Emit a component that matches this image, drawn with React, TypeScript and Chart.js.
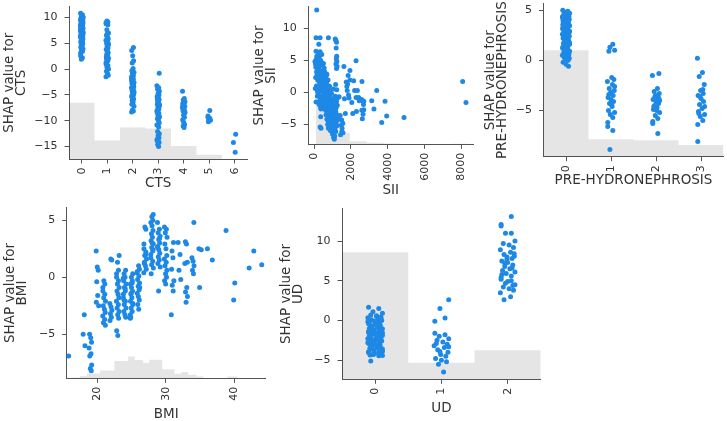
import React, { useEffect, useRef } from "react";
import { Chart, registerables } from "chart.js";

Chart.register(...registerables);

const BLUE = "#1E88E5";
const HIST_COLOR = "rgba(0,0,0,0.1)";
const TEXT_COLOR = "#333333";
const SPINE_COLOR = "#555555";
const FONT_FAMILY = "'DejaVu Sans', Verdana, sans-serif";
const TICK_SIZE = 11;
const TITLE_SIZE = 13.5;
const TITLE_LH = 0.91;

// ---------- CTS ----------
const CTS_CATS = [0, 1, 2, 3, 4, 5, 6];
const CTS_VALUES = [
  [10.8, 10.5, 10.3, 10.1, 9.9, 9.8, 9.6, 9.5, 9.4, 9.2, 9.1, 9.0, 8.8, 8.7, 8.6, 8.4, 8.3, 8.2, 8.0, 7.9, 7.8, 7.6, 7.5, 7.4, 7.2, 7.1, 7.0, 6.8, 6.7, 6.5, 6.4, 6.2, 6.0, 5.9, 5.7, 5.5, 5.3, 5.1, 4.9, 4.7, 4.5, 4.2, 3.9, 3.6, 3.4, 3.1, 2.6, 2.2, 1.9, 10.0, 9.7, 9.3, 8.9, 8.5, 8.1, 7.7, 7.3, 6.9, 6.6, 6.1, 5.6, 5.0, 4.4, 9.0, 8.0, 7.0],
  [9.3, 9.1, 9.0, 8.8, 8.6, 7.6, 7.0, 6.5, 6.2, 5.9, 5.6, 5.3, 5.0, 4.7, 4.4, 4.1, 3.8, 3.5, 3.2, 2.9, 2.7, 2.4, 2.1, 1.9, 1.6, 1.3, 1.0, 0.7, 0.4, 0.0, -0.4, -0.8, -1.2, -1.5, 3.0, 2.0, 4.9, 6.8],
  [4.2, 3.6, 2.6, 1.6, 1.2, 0.1, -0.3, -0.6, -0.9, -1.2, -1.5, -1.8, -2.0, -2.3, -2.6, -2.8, -3.1, -3.4, -3.6, -3.9, -4.2, -4.4, -4.7, -5.0, -5.2, -5.5, -5.8, -6.1, -6.4, -6.8, -7.2, -7.9, -8.1, -8.3, -2.2, -3.0, -3.8, -4.6, -5.4, -1.6],
  [-0.8, -3.2, -3.6, -3.9, -4.3, -4.7, -5.0, -5.3, -5.6, -5.9, -6.2, -6.5, -6.8, -7.1, -7.4, -7.7, -8.0, -8.3, -8.6, -8.9, -9.2, -9.6, -10.0, -10.4, -10.8, -11.2, -12.1, -12.5, -12.9, -13.3, -13.6, -13.9, -14.2, -14.6, -15.0, -5.8, -6.9, -8.2, -9.4, -13.8],
  [-4.3, -5.7, -6.0, -6.3, -6.6, -6.9, -7.2, -7.5, -7.8, -8.1, -8.5, -8.9, -9.3, -9.8, -10.3, -10.7, -11.0, -11.3, -7.0, -8.3, -6.5],
  [-8.0, -9.1, -9.3, -9.5, -9.7, -9.9, -10.2, -9.6],
  [-12.6, -14.2, -16.1],
];
const CTS_HIST_EDGES = [-0.5, 0.5, 1.5, 2.5, 3.5, 4.5, 5.5];
const CTS_HIST_HEIGHTS = [-6.5, -13.8, -11.3, -11.5, -14.9, -16.6];
const CTS_X_TICKS = [0, 1, 2, 3, 4, 5, 6];
const CTS_Y_TICKS = [-15, -10, -5, 0, 5, 10];

// ---------- SII ----------
const SII_POINTS: [number, number][] = [
  [145, 12.8], [110, 8.5], [330, 8.5], [780, 8.5], [260, 7.5], [110, 6.4], [330, 6.3], [420, 5.9], [290, 5.6],
  [50, 4.8], [80, 4.4], [100, 3.9], [120, 5.1], [140, 3.2], [160, 2.6], [180, 4.6], [200, 1.9], [220, 3.6], [240, 2.9],
  [260, 5.3], [280, 0.8], [300, 4.1], [320, 2.2], [340, 1.4], [360, 3.3], [380, 0.2], [400, 4.7], [420, 2.7], [440, -0.5],
  [460, 1.8], [480, 3.0], [500, 0.5], [520, 2.4], [540, -1.0], [560, 1.1], [580, 3.2], [600, -0.2], [620, 2.0], [640, 0.9],
  [660, -1.6], [680, 1.5], [700, 2.8], [720, -0.8], [740, 0.3], [760, 1.9], [780, -2.1], [800, -0.4], [820, 1.0], [150, 5.6],
  [250, 6.0], [350, 5.0], [450, 4.3], [550, 3.8], [650, 2.5], [750, -1.3], [180, -0.6], [280, -1.9], [380, -2.6], [480, -1.4],
  [580, -2.4], [130, 1.0], [230, -0.3], [330, -1.2], [430, 0.6], [530, -0.9], [630, -2.8], [90, 2.3], [190, 0.1], [290, 3.5],
  [390, 1.3], [490, 2.1], [590, 0.0], [690, -0.1], [710, -2.2], [610, 1.7], [510, 4.5], [410, 2.0], [310, 0.4], [210, 4.2],
  [110, -1.5], [70, 0.6], [170, 3.0], [270, 1.7], [370, -0.7], [470, -2.0], [570, 0.7], [670, 0.4], [770, -1.0], [840, 0.9],
  [245, -1.5], [360, -2.4], [360, -3.8], [330, -5.4], [380, -5.6], [780, -5.6], [870, -5.7],
  [600, -0.5], [620, -2.5], [650, -3.5], [680, -1.2], [700, -4.2], [720, -2.9], [740, -5.0], [760, -3.8], [780, -1.9],
  [800, -4.6], [820, -2.3], [840, -3.1], [860, -5.3], [880, -0.9], [900, -3.6], [920, -4.9], [940, -2.7], [960, -1.5],
  [980, -3.9], [1000, -5.8], [1020, -2.1], [1040, -4.4], [1060, -3.3], [1080, -6.2], [1100, -1.8], [1120, -4.0], [1140, -2.6],
  [1160, -5.1], [1180, -3.0], [1200, -4.7], [1220, -1.4], [1240, -3.5], [1260, -2.0], [1280, -4.3], [1300, -0.8], [700, -0.3],
  [750, 0.8], [850, 0.3], [950, -0.2], [1050, 0.5], [1150, -0.6], [900, -6.0], [1000, -6.5], [1060, -7.0], [1100, -7.3],
  [1120, -6.8], [1080, -5.5], [980, -4.8], [880, -4.0], [780, -3.2], [680, -2.0], [820, -5.6], [1180, -6.1], [1250, -5.2],
  [1300, -3.8], [1200, -2.4], [960, -3.0], [860, -2.0], [760, -4.4], [1040, -1.0], [1140, -5.7], [620, -1.4],
  [1150, 8.3], [1180, 8.1], [1220, 7.8], [1200, 6.9], [1230, 5.6], [1210, 5.2], [1240, 4.8], [1190, 4.4], [1250, 4.0],
  [1220, 3.7], [1170, 1.2], [1230, 0.4],
  [1360, -0.7], [1420, -3.6], [1500, -4.3], [1480, -5.1], [1520, -5.6], [1510, -6.1], [1440, -6.6], [1560, -4.8], [1570, -6.3],
  [1620, 4.0], [1750, 1.6], [1820, 1.3], [1780, 0.9], [1850, 2.6], [1950, 3.4], [1800, 0.3], [1870, -0.4], [1700, -3.3],
  [1900, -0.9], [1950, 1.9], [2100, -3.3], [2280, 4.9], [2200, 0.3], [2350, 0.3], [2280, -0.8], [2420, -0.8], [2300, -3.0],
  [2580, -1.1], [2650, -1.3], [2600, 1.7], [2700, -1.4], [2680, -1.9], [2660, -3.4], [2620, -4.1], [2700, -2.7], [2590, -2.8],
  [3130, -1.3], [3250, -2.6], [3400, 0.3], [3850, -1.4], [3940, -3.7], [3670, -4.7], [4880, -3.9], [8060, 1.7], [8240, -1.6],
  [2150, 1.8], [2050, -1.6], [1650, -1.0], [2450, -1.3],
];
const SII_HIST_EDGES = [100, 1020, 1940, 2860, 3780, 4700, 5620, 6540, 7460, 8380];
const SII_HIST_HEIGHTS = [-1.5, -6.3, -7.6, -7.85, -7.95, -8.09, -8.09, -8.09, -8.0];
const SII_X_TICKS = [0, 2000, 4000, 6000, 8000];
const SII_Y_TICKS = [-5, 0, 5, 10];

// ---------- PRE-HYDRONEPHROSIS ----------
const PRE_CATS = [0, 1, 2, 3];
const PRE_VALUES = [
  [5.0, 4.9, 4.8, 4.7, 4.6, 4.5, 4.4, 4.35, 4.3, 4.2, 4.1, 4.05, 4.0, 3.9, 3.8, 3.75, 3.7, 3.6, 3.5, 3.45, 3.4, 3.3, 3.2, 3.15, 3.1, 3.0, 2.9, 2.85, 2.8, 2.7, 2.6, 2.55, 2.5, 2.4, 2.3, 2.25, 2.2, 2.1, 2.0, 1.9, 1.8, 1.7, 1.6, 1.5, 1.4, 1.3, 1.2, 1.1, 1.0, 0.9, 0.8, 0.7, 0.6, 0.5, 0.4, 0.3, 0.2, 0.1, 0.0, -0.2, -0.4, -0.6, 3.65, 2.95, 2.35, 1.75, 1.15, 0.55, 4.15, 3.55],
  [1.6, 1.3, 1.0, 0.9, -1.7, -1.9, -2.1, -2.4, -2.8, -3.0, -3.2, -3.5, -3.7, -3.9, -4.1, -4.3, -4.6, -5.0, -5.2, -5.4, -5.7, -6.2, -6.6, -7.0, -8.9, -2.6, -3.4, -4.4],
  [-1.3, -1.5, -2.8, -3.1, -3.3, -3.5, -3.7, -3.9, -4.1, -4.3, -4.5, -4.7, -4.9, -5.2, -5.5, -5.8, -6.1, -6.3, -7.3, -3.6, -4.0, -4.6, -5.0, -3.8],
  [0.2, -1.2, -1.6, -2.4, -3.0, -3.3, -3.5, -3.8, -4.1, -4.4, -4.8, -5.1, -5.4, -5.6, -6.0, -6.4, -8.1, -2.9, -3.6, -4.6, -5.3],
];
const PRE_HIST_EDGES = [-0.5, 0.5, 1.5, 2.5, 3.5];
const PRE_HIST_HEIGHTS = [1.0, -7.86, -7.96, -8.45];
const PRE_X_TICKS = [0, 1, 2, 3];
const PRE_Y_TICKS = [-5, 0, 5];

// ---------- BMI ----------
const BMI_CATS = [16, 18, 19, 20, 21, 22, 23, 24, 25, 26, 27, 28, 29, 30, 31, 32, 33, 34, 35, 36, 37, 39, 40, 42, 43, 44];
const BMI_VALUES = [
  [-6.9],
  [-3.3, -5.0, -6.0],
  [-5.0, -5.3, -5.7, -6.2, -6.7, -6.9, -7.7, -8.0, -8.2],
  [2.3, 0.9, 0.6, -0.4, -1.6, -2.2, -2.5],
  [-0.3, -0.6, -0.9, -1.2, -1.5, -1.8, -2.1, -2.5, -2.8, -3.1, -3.4, -3.7, -4.0, -4.2],
  [1.6, 1.5, -2.3, -2.6, -2.9, -3.2, -3.5, -3.8],
  [1.9, 1.3, 0.6, 0.3, 0.0, -0.3, -0.6, -0.9, -1.2, -1.5, -1.8, -2.1, -2.4, -2.7, -3.0, -3.3, -3.6, -4.7, -5.1],
  [0.6, 0.3, 0.0, -0.3, -0.6, -0.9, -1.2, -1.5, -1.8, -2.1, -2.4, -2.7, -3.0, -3.3, -3.5, -0.1, -1.0, -2.0],
  [0.3, 0.0, -0.3, -0.6, -0.9, -1.2, -1.5, -1.8, -2.1, -2.4, -2.7, -3.0, -3.3, -3.6, -0.5, -1.4, -2.3, -3.5],
  [1.0, 0.7, 0.4, 0.1, -0.2, -0.5, -0.8, -1.1, -1.4, -1.7, -2.0, -2.4, -2.8, 0.5, -0.9],
  [4.4, 4.2, 2.9, 2.5, 2.2, 1.9, 1.6, 1.3, 1.0, 0.7, 0.4, 2.0, 1.2],
  [5.5, 5.3, 5.0, 4.8, 4.5, 4.1, 3.8, 3.5, 3.2, 2.9, 2.6, 2.3, 2.0, 1.7, 1.4, 1.1, 0.8, 0.3, 3.0, 2.4],
  [4.8, 4.2, 3.9, 3.6, 3.3, 3.0, 2.7, 2.4, 2.1, 1.8, 1.5, 1.2, 0.9, -1.2, 3.4, 2.6],
  [4.4, 4.2, 3.9, 3.5, 2.9, 2.5, 1.9, 1.6, 1.3, 1.0, 0.6, 0.3, 0.0, -0.3, -0.6],
  [3.05, 2.3, 1.7, 0.7, -0.3, -0.7, -1.2, -3.3],
  [3.05, 2.0, 0.6, -0.2],
  [3.1, 2.9, 1.3, 1.2, -0.9, -1.3, -1.7, -2.2],
  [4.8, 1.7, 1.4, 1.0, 0.6, 0.3],
  [2.5, 2.4, -0.9],
  [2.5],
  [1.5],
  [4.1],
  [-0.5, -2.0],
  [0.8],
  [2.3],
  [1.1],
];
const BMI_HIST_EDGES = [16.2, 17.5, 18.5, 20.4, 22.5, 24.5, 25.5, 26.7, 27.6, 29.5, 31.3, 32.3, 33.3, 34.5, 35.5, 39, 40.5];
const BMI_HIST_HEIGHTS = [-8.79, -8.66, -8.44, -8.18, -7.35, -6.96, -7.26, -7.52, -7.24, -8.07, -8.46, -8.31, -8.54, -8.7, -8.86, -8.7];
const BMI_X_TICKS = [20, 30, 40];
const BMI_Y_TICKS = [-5, 0, 5];

// ---------- UD ----------
const UD_CATS = [0, 1, 2];
const UD_VALUES = [
  [1.67, 1.5, 1.1, 0.9, 0.7, 0.6, 0.45, 0.35, 0.2, 0.1, 0.0, -0.1, -0.25, -0.35, -0.5, -0.6, -0.7, -0.85, -0.95, -1.05, -1.2, -1.3, -1.4, -1.5, -1.6, -1.75, -1.85, -1.95, -2.05, -2.2, -2.3, -2.4, -2.5, -2.6, -2.75, -2.85, -2.95, -3.05, -3.2, -3.3, -3.4, -3.5, -3.6, -3.75, -3.85, -3.95, -4.05, -4.2, -4.3, -4.4, -5.1, 0.5, 0.25, -0.15, -0.45, -0.8, -1.1, -1.45, -1.7, -2.0, -2.35, -2.65, -2.9, -3.25, -3.55, -3.9, -4.25, -4.45, 0.05, -0.4, -0.9, -1.25, -1.55, -1.9, -2.25, -2.55, -2.8, -3.15, -3.45, -3.8, -4.1, -0.3, -1.0, -1.65, -2.15, -2.7, -3.35, -4.35],
  [2.6, 1.5, 0.3, -0.1, -1.6, -1.8, -2.0, -2.3, -2.5, -2.7, -3.0, -3.2, -3.4, -3.7, -4.0, -4.3, -4.5, -4.8, -5.0, -5.2, -5.5, -6.5, -2.9, -3.3, -3.9],
  [13.1, 12.1, 11.9, 11.0, 11.0, 10.0, 9.7, 9.5, 9.2, 8.9, 8.6, 8.3, 8.1, 8.0, 7.8, 7.5, 7.3, 7.0, 6.8, 6.5, 6.3, 6.1, 5.9, 5.6, 5.4, 5.2, 5.0, 4.7, 4.5, 4.2, 4.0, 3.8, 3.5, 3.0, 2.6, 8.4, 7.7, 6.6, 5.8, 4.9, 4.4, 7.2],
];
const UD_HIST_EDGES = [-0.5, 0.5, 1.5, 2.5];
const UD_HIST_HEIGHTS = [8.58, -5.33, -3.75];
const UD_X_TICKS = [0, 1, 2];
const UD_Y_TICKS = [-5, 0, 5, 10];

// horizontal jitter pattern for categorical columns (display only)
const JITTER = [-0.09, 0.05, -0.03, 0.1, -0.06, 0.02, 0.08, -0.1, 0.04, -0.05, 0.09, -0.01, 0.06, -0.08, 0.0, 0.07, -0.04, 0.03, -0.07, 0.1, -0.02, 0.05, -0.09];

type Pt = { x: number; y: number };

function catPoints(cats: number[], values: number[][], amp: number): Pt[] {
  const pts: Pt[] = [];
  let k = 0;
  cats.forEach((c, ci) => {
    values[ci].forEach((y) => {
      pts.push({ x: c + JITTER[k % JITTER.length] * amp, y });
      k++;
    });
  });
  return pts;
}

function histPoints(edges: number[], heights: number[]): Pt[] {
  const pts: Pt[] = heights.map((h, i) => ({ x: edges[i], y: h }));
  pts.push({ x: edges[heights.length], y: heights[heights.length - 1] });
  return pts;
}

const fmt = (v: number) => (v < 0 ? "\u2212" + Math.abs(v) : String(v));

type PanelDef = {
  area: [number, number, number, number];
  yTitleX: number;
  xTitleY: number;
  xRange: [number, number];
  yRange: [number, number];
  xTicks: number[];
  yTicks: number[];
  xTitle: string;
  yTitle: string[];
  points: Pt[];
  hist: Pt[];
};

const PANELS: PanelDef[] = [
  {
    area: [69, 5, 247.4, 159], yTitleX: 9.7, xTitleY: 183.3,
    xRange: [-0.5, 6.5], yRange: [-17.4, 12.1], xTicks: CTS_X_TICKS, yTicks: CTS_Y_TICKS,
    xTitle: "CTS", yTitle: ["SHAP value for", "CTS"],
    points: catPoints(CTS_CATS, CTS_VALUES, 0.5), hist: histPoints(CTS_HIST_EDGES, CTS_HIST_HEIGHTS),
  },
  {
    area: [308.3, 5, 473, 144.3], yTitleX: 259.7, xTitleY: 190,
    xRange: [-310, 8620], yRange: [-8.09, 13.34], xTicks: SII_X_TICKS, yTicks: SII_Y_TICKS,
    xTitle: "SII", yTitle: ["SHAP value for", "SII"],
    points: SII_POINTS.map(([x, y]) => ({ x, y })), hist: histPoints(SII_HIST_EDGES, SII_HIST_HEIGHTS),
  },
  {
    area: [543.5, 2, 723.5, 156.7], yTitleX: 490.5, xTitleY: 180,
    xRange: [-0.5, 3.5], yRange: [-9.61, 5.66], xTicks: PRE_X_TICKS, yTicks: PRE_Y_TICKS,
    xTitle: "PRE-HYDRONEPHROSIS", yTitle: ["SHAP value for", "PRE-HYDRONEPHROSIS"],
    points: catPoints(PRE_CATS, PRE_VALUES, 0.8), hist: histPoints(PRE_HIST_EDGES, PRE_HIST_HEIGHTS),
  },
  {
    area: [66.7, 206.7, 265.7, 378.3], yTitleX: 10, xTitleY: 414,
    xRange: [15.53, 44.62], yRange: [-8.86, 6.1], xTicks: BMI_X_TICKS, yTicks: BMI_Y_TICKS,
    xTitle: "BMI", yTitle: ["SHAP value for", "BMI"],
    points: catPoints(BMI_CATS, BMI_VALUES, 2), hist: histPoints(BMI_HIST_EDGES, BMI_HIST_HEIGHTS),
  },
  {
    area: [342, 207.3, 540.8, 379.3], yTitleX: 286, xTitleY: 408.7,
    xRange: [-0.5, 2.5], yRange: [-7.41, 14.09], xTicks: UD_X_TICKS, yTicks: UD_Y_TICKS,
    xTitle: "UD", yTitle: ["SHAP value for", "UD"],
    points: catPoints(UD_CATS, UD_VALUES, 1.1), hist: histPoints(UD_HIST_EDGES, UD_HIST_HEIGHTS),
  },
];

function Panel({ def }: { def: PanelDef }) {
  const ref = useRef<HTMLCanvasElement>(null);
  const [l, t, r, b] = def.area;
  const lh = TITLE_SIZE * TITLE_LH;
  const half = lh / 2;
  const cl = Math.floor(def.yTitleX - half);
  const yTitlePad = def.yTitleX - half - cl;
  const ct = Math.floor(t - 12);
  const cr = Math.ceil(r + 12);
  const cb = Math.ceil(def.xTitleY + half);
  const xTitlePad = cb - (def.xTitleY + half);
  const w = cr - cl;
  const h = cb - ct;

  useEffect(() => {
    const tickFont = { family: FONT_FAMILY, size: TICK_SIZE };
    const titleFont = { family: FONT_FAMILY, size: TITLE_SIZE, lineHeight: TITLE_LH };
    const chart = new Chart(ref.current as HTMLCanvasElement, {
      type: "scatter",
      data: {
        datasets: [
          {
            type: "line",
            data: def.hist,
            stepped: true,
            fill: "start",
            backgroundColor: HIST_COLOR,
            borderWidth: 0,
            borderColor: "rgba(0,0,0,0)",
            pointRadius: 0,
            order: 2,
          } as any,
          {
            type: "scatter",
            data: def.points,
            backgroundColor: BLUE,
            borderWidth: 0,
            pointRadius: 2.5,
            order: 1,
          } as any,
        ],
      },
      options: {
        animation: false,
        responsive: false,
        maintainAspectRatio: false,
        events: [],
        layout: { padding: { left: 0, top: t - ct, right: cr - r, bottom: 0 } },
        plugins: { legend: { display: false }, tooltip: { enabled: false } },
        scales: {
          x: {
            type: "linear",
            min: def.xRange[0],
            max: def.xRange[1],
            afterBuildTicks: (s: any) => {
              s.ticks = def.xTicks.map((v) => ({ value: v }));
            },
            afterFit: (s: any) => {
              s.height = cb - b;
            },
            grid: { display: true, drawOnChartArea: false, drawTicks: true, tickLength: 4.5, color: SPINE_COLOR, lineWidth: 1 },
            border: { display: true, color: SPINE_COLOR, width: 1 },
            ticks: {
              minRotation: 90,
              maxRotation: 90,
              autoSkip: false,
              padding: 4,
              color: TEXT_COLOR,
              font: tickFont,
              callback: (v: any) => fmt(Number(v)),
            },
            title: { display: true, text: def.xTitle, color: TEXT_COLOR, font: titleFont, padding: { top: 0, bottom: xTitlePad } },
          },
          y: {
            type: "linear",
            min: def.yRange[0],
            max: def.yRange[1],
            afterBuildTicks: (s: any) => {
              s.ticks = def.yTicks.map((v) => ({ value: v }));
            },
            afterFit: (s: any) => {
              s.width = l - cl;
            },
            grid: { display: true, drawOnChartArea: false, drawTicks: true, tickLength: 4.5, color: SPINE_COLOR, lineWidth: 1 },
            border: { display: true, color: SPINE_COLOR, width: 1 },
            ticks: {
              autoSkip: false,
              padding: 7,
              color: TEXT_COLOR,
              font: tickFont,
              callback: (v: any) => fmt(Number(v)),
            },
            title: { display: true, text: def.yTitle, color: TEXT_COLOR, font: titleFont, padding: { top: yTitlePad, bottom: 0 } },
          },
        },
      } as any,
    });
    return () => chart.destroy();
  }, []);

  return (
    <canvas
      ref={ref}
      width={w}
      height={h}
      style={{ position: "absolute", left: cl, top: ct, width: w, height: h }}
    />
  );
}

export default function App() {
  return (
    <div
      style={{
        position: "absolute",
        left: 0,
        top: 0,
        width: 727,
        height: 421,
        overflow: "hidden",
        background: "#ffffff",
      }}
    >
      {PANELS.map((p, i) => (
        <Panel key={i} def={p} />
      ))}
    </div>
  );
}
